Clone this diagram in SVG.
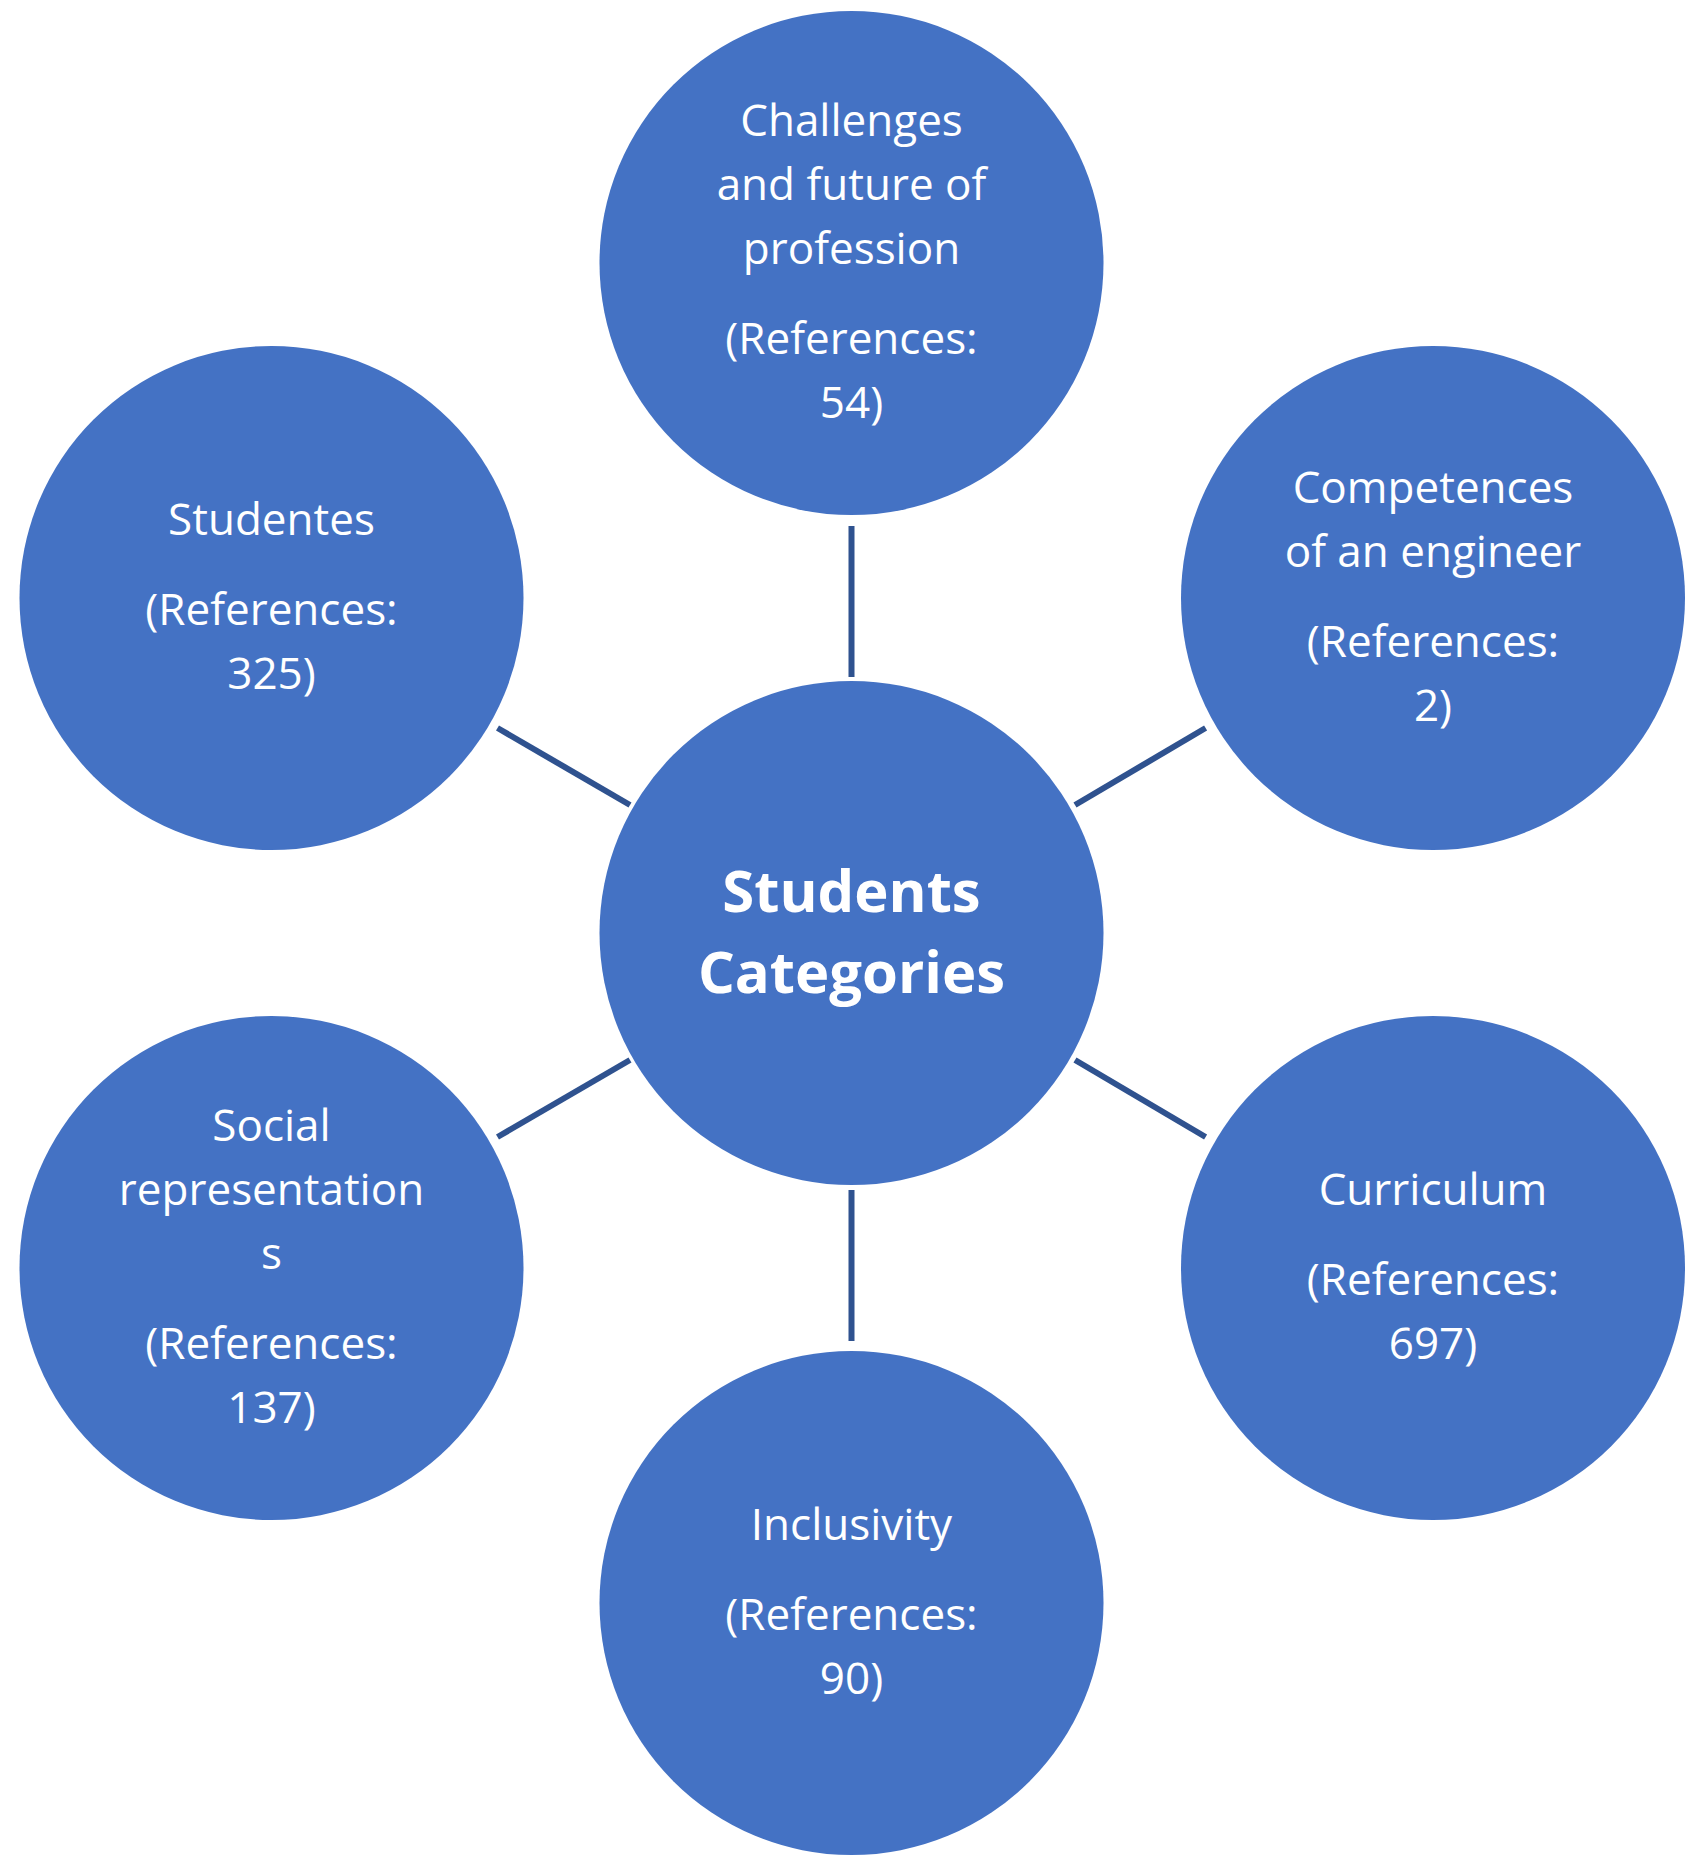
<svg xmlns="http://www.w3.org/2000/svg" width="1698" height="1868" viewBox="0 0 1698 1868">
<style>
.n{fill:#4472C4}
.t{fill:#fff;font-family:"Open Sans","Liberation Sans",sans-serif;font-size:44px;text-anchor:middle}
.b{font-weight:bold;font-size:58px}
.c{stroke:#2F528F;stroke-width:6;fill:none}
</style>
<rect width="1698" height="1868" fill="#fff"/>
<g id="connectors" class="c">
<line x1="851.5" y1="526" x2="851.5" y2="677"/>
<line x1="497.5" y1="728" x2="630" y2="805"/>
<line x1="1205.6" y1="728" x2="1075" y2="805"/>
<line x1="497.5" y1="1137" x2="630" y2="1060"/>
<line x1="1205.6" y1="1137" x2="1075" y2="1060"/>
<line x1="851.5" y1="1190" x2="851.5" y2="1341"/>
</g>
<g id="center"><circle class="n" cx="851.5" cy="933" r="252"/>
<text class="t b" x="851.5" y="912">Students</text><text class="t b" x="851.5" y="993">Categories</text></g>
<g id="challenges"><circle class="n" cx="851.5" cy="263" r="252"/>
<text class="t" x="851.5" y="136">Challenges</text><text class="t" x="851.5" y="200">and future of</text><text class="t" x="851.5" y="264">profession</text><text class="t" x="851.5" y="354">(References:</text><text class="t" x="851.5" y="418">54)</text></g>
<g id="competences"><circle class="n" cx="1433" cy="598" r="252"/>
<text class="t" x="1433" y="503">Competences</text><text class="t" x="1433" y="567">of an engineer</text><text class="t" x="1433" y="657">(References:</text><text class="t" x="1433" y="721">2)</text></g>
<g id="curriculum"><circle class="n" cx="1433" cy="1268" r="252"/>
<text class="t" x="1433" y="1205">Curriculum</text><text class="t" x="1433" y="1295">(References:</text><text class="t" x="1433" y="1359">697)</text></g>
<g id="inclusivity"><circle class="n" cx="851.5" cy="1603" r="252"/>
<text class="t" x="851.5" y="1540">Inclusivity</text><text class="t" x="851.5" y="1630">(References:</text><text class="t" x="851.5" y="1694">90)</text></g>
<g id="social"><circle class="n" cx="271.5" cy="1268" r="252"/>
<text class="t" x="271.5" y="1141">Social</text><text class="t" x="271.5" y="1205">representation</text><text class="t" x="271.5" y="1269">s</text><text class="t" x="271.5" y="1359">(References:</text><text class="t" x="271.5" y="1423">137)</text></g>
<g id="studentes"><circle class="n" cx="271.5" cy="598" r="252"/>
<text class="t" x="271.5" y="535">Studentes</text><text class="t" x="271.5" y="625">(References:</text><text class="t" x="271.5" y="689">325)</text></g>
</svg>
